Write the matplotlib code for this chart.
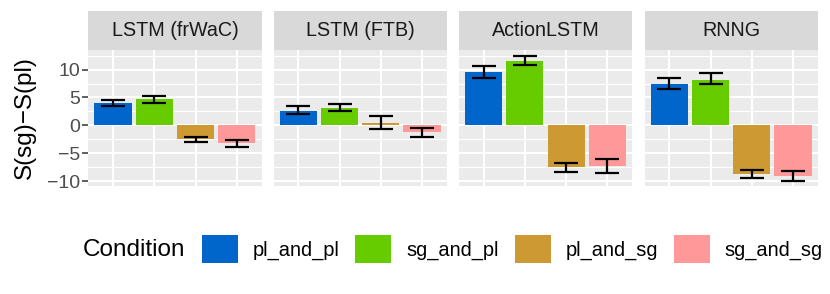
import matplotlib
matplotlib.use('Agg')
import matplotlib.pyplot as plt
from matplotlib.patches import Patch
from matplotlib.ticker import MultipleLocator

plt.rcParams['font.family'] = ['Liberation Sans', 'DejaVu Sans']

# ---- data ----
models = ['LSTM (frWaC)', 'LSTM (FTB)', 'ActionLSTM', 'RNNG']
conditions = ['pl_and_pl', 'sg_and_pl', 'pl_and_sg', 'sg_and_sg']
colors = ['#0066CC', '#66CC00', '#CC9933', '#FF9999']

mean_frwac = [4.1, 4.7, -2.5, -3.2]
mean_ftb = [2.6, 3.1, 0.5, -1.2]
mean_action = [9.5, 11.6, -7.5, -7.3]
mean_rnng = [7.4, 8.2, -8.7, -9.1]

low_frwac = [3.5, 4.1, -3.0, -3.8]
low_ftb = [2.0, 2.5, -0.6, -2.1]
low_action = [8.5, 10.8, -8.4, -8.5]
low_rnng = [6.5, 7.4, -9.4, -9.9]

high_frwac = [4.6, 5.2, -2.1, -2.6]
high_ftb = [3.5, 3.8, 1.6, -0.4]
high_action = [10.6, 12.5, -6.7, -6.1]
high_rnng = [8.5, 9.3, -7.9, -8.2]

means = [mean_frwac, mean_ftb, mean_action, mean_rnng]
lows = [low_frwac, low_ftb, low_action, low_rnng]
highs = [high_frwac, high_ftb, high_action, high_rnng]

yticks = [-10, -5, 0, 5, 10]

# ---- figure ----
W, H = 830, 294
fig = plt.figure(figsize=(W / 100, H / 100), dpi=100)

panel_left = [88.3, 273.5, 458.8, 644.5]
panel_w = 173.3
p_top, p_bot = 50, 186
s_top = 11

for i, m in enumerate(models):
    x0 = panel_left[i]
    ax = fig.add_axes([x0 / W, (H - p_bot) / H, panel_w / W, (p_bot - p_top) / H])
    ax.set_facecolor('#EBEBEB')
    for sp in ax.spines.values():
        sp.set_visible(False)
    xs = list(range(1, len(conditions) + 1))
    ax.bar(xs, means[i], width=0.9, color=colors, zorder=3, edgecolor='none')
    ylo = [means[i][k] - lows[i][k] for k in range(4)]
    yhi = [highs[i][k] - means[i][k] for k in range(4)]
    ax.errorbar(xs, means[i], yerr=[ylo, yhi], fmt='none', ecolor='black',
                elinewidth=1.6, capsize=8.6, capthick=1.6, zorder=4)
    ax.set_xlim(0.4, 4.6)
    ax.set_ylim(-10.85, 13.5)
    ax.set_xticks(xs)
    ax.set_xticklabels([])
    ax.tick_params(axis='x', length=0)
    ax.set_yticks(yticks)
    ax.yaxis.set_minor_locator(MultipleLocator(2.5))
    ax.tick_params(axis='y', which='minor', length=0)
    ax.grid(True, which='major', color='white', linewidth=1.5, zorder=0)
    ax.grid(True, which='minor', axis='y', color='white', linewidth=0.8, zorder=0)
    ax.set_axisbelow(True)
    if i == 0:
        ax.set_yticklabels([f'{t}'.replace('-', '\u2212') for t in yticks])
        ax.tick_params(axis='y', which='major', length=4, width=1.1, color='#333333',
                       labelsize=14, labelcolor='#4D4D4D', pad=2)
        ax.set_ylabel('S(sg)\u2212S(pl)', fontsize=17.5, color='black', labelpad=8)
    else:
        ax.set_yticklabels([])
        ax.tick_params(axis='y', which='major', length=0)
    # strip
    sax = fig.add_axes([x0 / W, (H - p_top) / H, panel_w / W, (p_top - s_top) / H])
    sax.set_facecolor('#D9D9D9')
    sax.set_xticks([])
    sax.set_yticks([])
    for sp in sax.spines.values():
        sp.set_visible(False)
    sax.text(0.5, 0.5, m, ha='center', va='center', fontsize=14.2, color='#1A1A1A',
             transform=sax.transAxes)

# ---- legend ----
fig.text(83 / W, 1 - 250 / H, 'Condition', fontsize=17.5, ha='left', va='center')
handles = [Patch(facecolor=c, edgecolor='none') for c in colors]
fig.legend(handles, conditions, loc='center left', bbox_to_anchor=(202 / W, 1 - 249 / H),
           ncol=4, frameon=False, fontsize=14.4, handlelength=1.8, handleheight=1.8,
           handletextpad=0.75, columnspacing=0.78, borderpad=0, borderaxespad=0)

fig.savefig('out.png', dpi=100)
